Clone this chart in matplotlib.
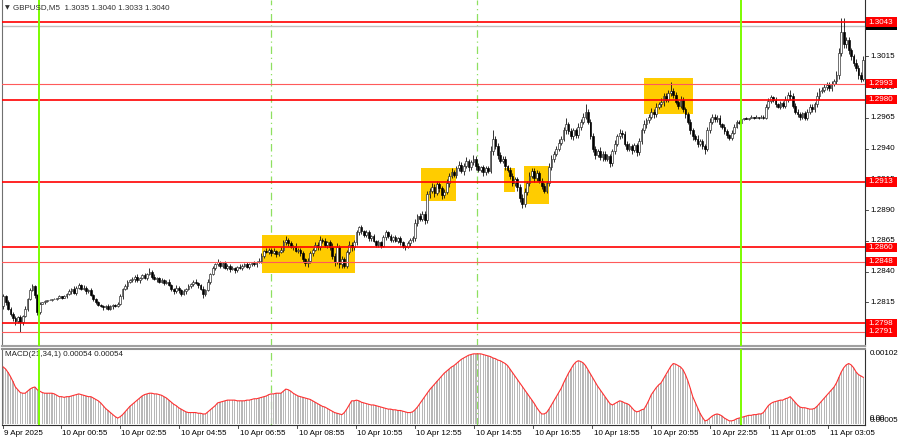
import matplotlib
matplotlib.use("Agg")
import matplotlib.pyplot as plt
from matplotlib.patches import Rectangle
import numpy as np

plt.rcParams['font.family'] = ['Liberation Sans', 'DejaVu Sans']

# ---------------- data ----------------
first_open = 1.2812
closes = [
    1.2820, 1.2815, 1.2810, 1.2806, 1.2802, 1.2800, 1.2803, 1.2799, 1.2804, 1.2810,
    1.2818, 1.2825, 1.2828, 1.2821, 1.2807, 1.2814, 1.2815, 1.2816, 1.2817, 1.2817,
    1.2818, 1.2818, 1.2819, 1.2820, 1.2819, 1.2820, 1.2822, 1.2824, 1.2826, 1.2823,
    1.2827, 1.2829, 1.2826, 1.2827, 1.2824, 1.2825, 1.2821, 1.2818, 1.2815, 1.2813,
    1.2812, 1.2811, 1.2812, 1.2810, 1.2812, 1.2813, 1.2812, 1.2814, 1.2820, 1.2826,
    1.2828, 1.2832, 1.2833, 1.2834, 1.2836, 1.2833, 1.2835, 1.2837, 1.2835, 1.2838,
    1.2840, 1.2836, 1.2834, 1.2835, 1.2832, 1.2833, 1.2831, 1.2832, 1.2829, 1.2826,
    1.2824, 1.2827, 1.2825, 1.2822, 1.2824, 1.2826, 1.2828, 1.2830, 1.2832, 1.2831,
    1.2829, 1.2826, 1.2822, 1.2825, 1.2832, 1.2838, 1.2843, 1.2846, 1.2848, 1.2845,
    1.2847, 1.2843, 1.2845, 1.2842, 1.2843, 1.2841, 1.2844, 1.2843, 1.2845, 1.2846,
    1.2844, 1.2846, 1.2847, 1.2846, 1.2848, 1.2849, 1.2853, 1.2857, 1.2856, 1.2858,
    1.2855, 1.2857, 1.2854, 1.2856, 1.2858, 1.2864, 1.2866, 1.2863, 1.2860, 1.2861,
    1.2857, 1.2858, 1.2855, 1.2850, 1.2847, 1.2849, 1.2855, 1.2858, 1.2862, 1.2860,
    1.2866, 1.2865, 1.2862, 1.2864, 1.2860, 1.2853, 1.2848, 1.2860, 1.2846, 1.2850,
    1.2845, 1.2856, 1.2862, 1.2860, 1.2864, 1.2872, 1.2876, 1.2873, 1.2870, 1.2872,
    1.2867, 1.2869, 1.2865, 1.2862, 1.2864, 1.2861, 1.2868, 1.2872, 1.2869, 1.2866,
    1.2868, 1.2865, 1.2867, 1.2864, 1.2861, 1.2860, 1.2863, 1.2866, 1.2867, 1.2880,
    1.2885, 1.2883, 1.2887, 1.2882, 1.2903, 1.2906, 1.2909, 1.2904, 1.2911, 1.2908,
    1.2902, 1.2905, 1.2912, 1.2918, 1.2921, 1.2919, 1.2924, 1.2927, 1.2922, 1.2926,
    1.2930, 1.2925, 1.2929, 1.2932, 1.2926, 1.2923, 1.2925, 1.2921, 1.2924, 1.2922,
    1.2938, 1.2948, 1.2942, 1.2935, 1.2930, 1.2932, 1.2926, 1.2923, 1.2918, 1.2912,
    1.2915, 1.2909, 1.2900, 1.2895, 1.2905, 1.2912, 1.2918, 1.2922, 1.2916, 1.2920,
    1.2914, 1.2910, 1.2906, 1.2912, 1.2925, 1.2932, 1.2936, 1.2940, 1.2945, 1.2948,
    1.2955, 1.2960, 1.2954, 1.2950, 1.2955, 1.2951, 1.2958, 1.2962, 1.2966, 1.2970,
    1.2962, 1.2950, 1.2940, 1.2935, 1.2938, 1.2933, 1.2936, 1.2932, 1.2934, 1.2928,
    1.2938, 1.2944, 1.2950, 1.2953, 1.2952, 1.2944, 1.2940, 1.2942, 1.2939, 1.2943,
    1.2937, 1.2946, 1.2955, 1.2960, 1.2963, 1.2966, 1.2970, 1.2968, 1.2974, 1.2976,
    1.2978, 1.2983, 1.2980, 1.2985, 1.2987, 1.2984, 1.2978, 1.2975, 1.2980, 1.2972,
    1.2968, 1.2962, 1.2955, 1.2950, 1.2948, 1.2944, 1.2946, 1.2942, 1.2940, 1.2955,
    1.2962, 1.2966, 1.2964, 1.2965, 1.2960, 1.2958, 1.2954, 1.2951, 1.2949, 1.2953,
    1.2958, 1.2962, 1.2961, 1.2964, 1.2965, 1.2964, 1.2965, 1.2966, 1.2965, 1.2966,
    1.2965, 1.2966, 1.2965, 1.2974, 1.2979, 1.2982, 1.2980, 1.2976, 1.2974, 1.2977,
    1.2975, 1.2980, 1.2984, 1.2983, 1.2975, 1.2970, 1.2968, 1.2966, 1.2969, 1.2965,
    1.2970, 1.2974, 1.2972, 1.2976, 1.2983, 1.2987, 1.2988, 1.2990, 1.2992, 1.2989,
    1.2993, 1.2995, 1.3000, 1.3018, 1.3035, 1.3025, 1.3028, 1.3020, 1.3015, 1.3010,
    1.3006, 1.3000, 1.2997, 1.3012,
]
# upper / lower shadow lengths in pips
wick_up = [
    2,1,2,1,1,2,1,2,1,2, 1,2,2,1,1,1,0,1,0,1, 0,1,0,1,0,1,1,2,1,2,
    1,2,1,2,1,1,2,1,1,1, 1,1,1,2,1,1,1,1,2,1, 2,1,1,2,1,2,1,1,2,1,
    3,1,2,1,1,2,1,1,2,1, 1,2,1,1,2,1,2,1,1,2, 1,1,2,1,2,1,2,1,2,1,
    1,2,1,1,2,1,1,2,1,1, 2,1,1,2,1,2,2,1,2,1, 1,2,1,1,2,2,3,1,2,1,
    2,1,1,2,1,2,2,1,2,2, 3,1,2,1,2,3,2,3,2,3, 2,2,3,2,2,2,1,2,1,2,
    2,1,2,1,2,1,2,2,1,2, 1,2,1,2,1,1,2,1,2,3, 2,3,2,2,3,2,3,2,3,2,
    2,2,3,2,3,2,2,3,2,2, 3,2,2,3,2,2,1,2,2,2, 4,7,2,3,2,2,2,1,2,2,
    2,2,2,3,3,2,3,2,2,3, 2,2,2,2,3,3,2,2,3,2, 3,5,2,3,2,2,3,2,3,6,
    2,2,3,2,2,3,2,2,2,2, 2,3,2,3,2,2,2,3,2,2, 2,3,2,3,2,2,3,2,3,2,
    3,2,2,3,7,2,2,2,3,2, 2,2,2,2,2,3,2,2,2,3, 3,2,2,2,2,1,2,2,1,2,
    2,1,1,1,0,1,0,1,0,1, 0,1,1,2,2,2,1,2,1,2, 2,3,2,4,2,2,2,2,1,2,
    2,2,2,2,3,2,2,3,2,2, 2,2,3,4,11,11,3,3,2,2, 3,2,2,3,
]
wick_dn = [
    2,2,1,2,2,3,2,8,2,1, 2,1,1,2,2,1,0,1,1,0, 1,0,1,0,1,0,1,1,2,1,
    2,1,1,1,2,1,1,2,1,1, 1,2,1,1,1,2,1,1,1,2, 1,2,1,1,2,1,2,1,1,2,
    1,2,1,2,1,1,2,1,1,2, 2,1,2,2,1,2,1,1,2,1, 2,1,3,2,1,2,1,2,1,2,
    2,1,2,2,1,2,1,1,2,1, 1,2,1,1,2,1,2,2,1,2, 2,1,2,1,1,2,2,2,1,2,
    1,2,2,2,2,3,2,2,1,2, 2,2,2,3,2,3,3,2,3,3, 2,2,2,3,2,2,2,2,2,2,
    2,2,1,2,2,2,1,2,2,2, 2,1,2,2,2,2,1,2,2,2, 3,2,2,3,2,3,2,3,2,3,
    3,2,2,3,2,2,3,2,2,3, 2,3,2,2,3,2,2,3,2,2, 2,3,2,3,2,2,3,2,3,2,
    2,3,3,3,2,3,2,2,3,2, 2,3,2,2,2,2,3,2,2,2, 2,3,2,2,3,2,2,3,2,2,
    2,2,3,3,2,2,3,2,2,3, 2,2,2,2,3,2,2,2,3,2, 3,2,2,2,3,2,2,3,2,2,
    2,3,2,2,2,3,2,3,2,2, 3,2,3,3,2,3,2,2,4,2, 2,2,2,2,2,2,2,2,2,2,
    1,1,1,1,1,0,1,0,1,0, 1,0,1,1,2,2,2,2,1,2, 2,2,2,3,2,2,2,3,2,2,
    2,2,2,2,2,3,2,2,2,2, 2,2,2,3,3,3,3,3,3,3, 3,3,3,2,
]
# MACD(21,34,1) main value, in units of 1e-5
macd_e5 = [
    83,80,75,69,62,54,50,46,45,45, 48,51,53,54,50,48,46,45,45,45,
    45,44,42,40,40,39,40,40,41,42, 43,44,43,42,41,40,40,38,36,34,
    31,27,23,20,17,14,11,9,11,14, 18,22,26,29,32,35,38,41,43,44,
    45,45,44,44,43,42,40,38,35,32, 29,27,24,22,20,18,17,17,17,17,
    16,16,15,15,18,21,24,27,31,32, 33,34,35,35,35,35,34,34,34,34,
    35,35,36,37,37,38,39,40,41,43, 44,44,45,45,45,48,51,50,48,45,
    43,41,40,39,38,37,36,34,32,30, 28,26,25,23,21,19,17,16,15,14,
    17,22,28,34,34,35,34,32,31,30, 29,28,28,27,26,25,24,23,22,22,
    21,21,20,20,19,18,17,17,18,21, 25,30,35,40,45,50,54,58,62,66,
    70,74,77,80,83,85,88,91,94,96, 98,100,101,102,102,102,102,101,100,99,
    98,96,95,93,92,90,88,85,80,75, 70,65,60,55,50,45,40,35,30,24,
    19,15,15,17,22,28,34,40,46,52, 60,67,74,80,86,90,92,91,89,85,
    79,73,67,61,55,50,45,40,35,30, 28,30,32,34,33,31,30,28,24,20,
    18,19,21,22,28,35,43,48,53,57, 60,66,72,78,84,88,87,85,83,79,
    72,63,52,40,32,24,16,10,5,6, 9,12,14,15,14,12,9,7,5,5,
    6,8,9,10,11,12,13,13,14,14, 15,15,17,22,27,30,32,33,34,35,
    35,37,38,40,36,32,28,25,24,24, 23,22,22,23,26,30,34,38,42,46,
    50,54,60,68,76,82,86,88,86,82, 76,72,70,68,
]

time_labels = ["9 Apr 2025", "10 Apr 00:55", "10 Apr 02:55", "10 Apr 04:55",
               "10 Apr 06:55", "10 Apr 08:55", "10 Apr 10:55", "10 Apr 12:55",
               "10 Apr 14:55", "10 Apr 16:55", "10 Apr 18:55", "10 Apr 20:55",
               "10 Apr 22:55", "11 Apr 01:05", "11 Apr 03:05"]
time_label_bars = [0, 23.8, 48.0, 72.3, 96.5, 120.7, 144.9, 169.1, 193.4,
                   217.6, 241.8, 266.0, 290.2, 314.5, 338.7]

levels_thick = [1.3043, 1.2980, 1.2913, 1.2860, 1.2798]
levels_thin = [1.2993, 1.2848, 1.2791]
bid_price = 1.3040
price_ticks = [1.3040, 1.3015, 1.2990, 1.2965, 1.2940, 1.2915, 1.2890,
               1.2865, 1.2840, 1.2815, 1.2790]

# yellow zones: (bar_start, bar_end, price_low, price_high)
zones = [
    (106.1, 144.3, 1.2839, 1.2870),
    (171.3, 185.7, 1.28975, 1.29243),
    (205.7, 210.2, 1.2905, 1.2924),
    (213.9, 223.8, 1.2895, 1.2926),
    (263.1, 283.2, 1.29682, 1.29975),
]
day_lines = [14.6, 302.9]        # solid green separators
session_lines = [109.8, 194.3]   # dash-dot green

# ---------------- figure ----------------
W, H = 900, 441
fig = plt.figure(figsize=(W / 100, H / 100), dpi=100)
fig.patch.set_facecolor('white')
ax = fig.add_axes([2 / W, 95 / H, 863 / W, 346 / H])
ax2 = fig.add_axes([2 / W, 16 / H, 863 / W, 76 / H], sharex=ax)

n = len(closes)
x = np.arange(n)
c = np.array(closes)
o = np.concatenate([[first_open], c[:-1]])
hi = np.maximum(o, c) + np.array(wick_up) * 1e-4
lo = np.minimum(o, c) - np.array(wick_dn) * 1e-4

for (b0, b1, p0, p1) in zones:
    ax.add_patch(Rectangle((b0, p0), b1 - b0, p1 - p0, facecolor='#ffcc00',
                           edgecolor='none', zorder=1))

ax.axhline(bid_price, color='#c0c0c0', lw=1.0, zorder=2)
for lv in levels_thick:
    ax.axhline(lv, color='#ff0000', lw=1.2, zorder=4)
for lv in levels_thin:
    ax.axhline(lv, color='#ff5a5a', lw=0.8, zorder=4)

ax.vlines(x, lo, hi, color='#101010', lw=0.6, zorder=3)
bull = c >= o
body_h = np.maximum(np.abs(c - o), 0.00002)
ax.bar(x[bull], body_h[bull], bottom=np.minimum(o, c)[bull], width=0.72,
       color='white', edgecolor='#202020', linewidth=0.45, zorder=3)
ax.bar(x[~bull], body_h[~bull], bottom=np.minimum(o, c)[~bull], width=0.72,
       color='black', edgecolor='black', linewidth=0.45, zorder=3)

for a in (ax, ax2):
    for d in day_lines:
        a.axvline(d, color='#7cfc00', lw=1.4, zorder=5)
    for d in session_lines:
        a.axvline(d, color='#8fe060', lw=0.9, ls=(0, (6, 3, 1, 3)), zorder=0.5)

ax.set_ylim(1.27796, 1.30609)
ax.set_xlim(-0.5, n - 0.3)

# MACD panel
m = np.array(macd_e5) * 1e-5
ax2.bar(x, m, width=0.5, color='#b8b8b8', edgecolor='none', zorder=2)
ax2.plot(x, m, color='#ff3030', lw=0.8, zorder=3)
ax2.set_ylim(-0.00001, 0.00109)

for a in (ax, ax2):
    a.set_xticks([])
    a.set_yticks([])
    a.set_facecolor('white')
    a.spines['left'].set_color('#707070')
    a.spines['right'].set_color('#303030')
    a.spines['left'].set_linewidth(0.8)
    a.spines['right'].set_linewidth(0.8)
ax.spines['top'].set_visible(False)
ax.spines['bottom'].set_color('#a0a0a0')
ax.spines['bottom'].set_linewidth(1.5)
ax2.spines['top'].set_color('#909090')
ax2.spines['top'].set_linewidth(1.5)
ax2.spines['bottom'].set_color('#303030')
ax2.spines['bottom'].set_linewidth(0.8)

fs = 5.8
ytr = ax.get_yaxis_transform()
for t in price_ticks:
    ax.plot([1.0, 1.004], [t, t], transform=ytr, color='#303030', lw=0.6, clip_on=False)
    ax.text(1.0058, t, f"{t:.4f}", transform=ytr, fontsize=fs, color='black',
            va='center', ha='left', clip_on=False, zorder=6)

# price-per-pixel for sizing the level label boxes
ppp = (1.30609 - 1.27796) / 346.0

def level_label(a, price, fc, z):
    a.add_patch(Rectangle((1.0012, price - 4.6 * ppp), 0.0362, 9.2 * ppp,
                          transform=a.get_yaxis_transform(), facecolor=fc,
                          edgecolor='none', clip_on=False, zorder=z))
    a.text(1.0045, price, f"{price:.4f}", transform=a.get_yaxis_transform(),
           fontsize=fs, color='white', va='center', ha='left', clip_on=False,
           zorder=z + 0.5)

z = 10
level_label(ax, bid_price, 'black', z)
for lv in levels_thin + levels_thick:
    z += 1
    level_label(ax, lv, '#ff0000', z)

# MACD right labels
ytr2 = ax2.get_yaxis_transform()
ax2.text(1.0058, 0.00102, "0.00102", transform=ytr2, fontsize=fs, color='black',
         va='center', ha='left', clip_on=False)
ax2.text(1.0058, 0.00005, "0.00005", transform=ytr2, fontsize=fs, color='black',
         va='center', ha='left', clip_on=False)
ax2.text(1.0058, 0.00008, "0.00", transform=ytr2, fontsize=fs, color='black',
         va='center', ha='left', clip_on=False)
ax2.text(0.003, 0.93, "MACD(21,34,1) 0.00054 0.00054", transform=ax2.transAxes,
         fontsize=fs, color='#202020', va='center', ha='left')

# time axis
xtr = ax2.get_xaxis_transform()
for b, lab in zip(time_label_bars, time_labels):
    ax2.plot([b, b], [0, -0.045], transform=xtr, color='#303030', lw=0.6, clip_on=False)
    ax2.text(b + 0.5, -0.11, lab, transform=xtr, fontsize=fs, color='black',
             va='center', ha='left', clip_on=False)

# header
fig.text(5 / W, 1 - 7.5 / H, "▼", fontsize=4.5, color='#303030', va='center', ha='left',
         family=['DejaVu Sans'])
fig.text(13 / W, 1 - 7.5 / H, "GBPUSD,M5  1.3035 1.3040 1.3033 1.3040", fontsize=fs,
         color='#303030', va='center', ha='left')

fig.savefig("out.png", dpi=100)
